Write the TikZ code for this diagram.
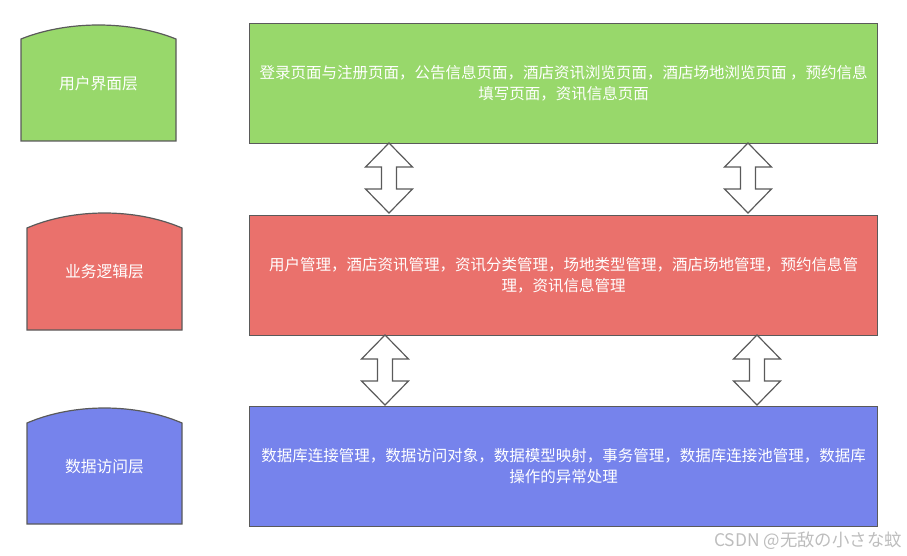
\documentclass[tikz,border=0pt]{standalone}
\usepackage{fontspec}
\setmainfont{Noto Sans CJK SC}
\definecolor{cgreen}{HTML}{98D86B}
\definecolor{cred}{HTML}{EA716C}
\definecolor{cblue}{HTML}{7683EC}
\definecolor{cline}{HTML}{5A5A5A}
\definecolor{cwm}{HTML}{BDBDBD}
\tikzset{
  box/.style={draw=cline, line width=1.2pt, rectangle, anchor=north west,
    minimum width=628pt, minimum height=120pt, inner sep=0pt, text=white,
    align=center, font=\fontsize{15.5}{21}\selectfont},
  layerlabel/.style={text=white, font=\fontsize{15.8}{18}\selectfont, inner sep=0pt},
  tapeshape/.style={draw=cline, line width=1.2pt},
  arrowst/.style={draw=cline, line width=1.2pt, fill=white, line join=miter},
  dbl/.pic={\path[arrowst] (0,0) -- (23.5,24) -- (7.5,24) -- (7.5,46) -- (23.5,46)
     -- (0,70) -- (-23.5,46) -- (-7.5,46) -- (-7.5,24) -- (-23.5,24) -- cycle;}
}
\newcommand\tapepath[5]{% x1 x2 ypeak yside ybottom
  (#1,#5) -- (#1,#4) .. controls ({#1+0.3*(#2-#1)},{#3-(#4-#3)/3}) and ({#2-0.3*(#2-#1)},{#3-(#4-#3)/3}) .. (#2,#4) -- (#2,#5) -- cycle}
\begin{document}
\begin{tikzpicture}[x=1pt,y=-1pt]
\useasboundingbox (0,0) rectangle (907,556);
% left layer shapes
\path[tapeshape, fill=cgreen] \tapepath{21}{176}{25}{39}{141};
\node[layerlabel] (l1) at (98.5,84) {用户界面层};
\path[tapeshape, fill=cred] \tapepath{27}{182}{213}{228}{330};
\node[layerlabel] (l2) at (104.5,272) {业务逻辑层};
\path[tapeshape, fill=cblue] \tapepath{27}{182}{408}{423}{524};
\node[layerlabel] (l3) at (104.5,467) {数据访问层};
% right boxes
\node[box, fill=cgreen] (ui) at (249,23) {登录页面与注册页面，公告信息页面，酒店资讯浏览页面，酒店场地浏览页面 ，预约信息\\填写页面，资讯信息页面};
\node[box, fill=cred] (bl) at (249,214.5) {用户管理，酒店资讯管理，资讯分类管理，场地类型管理，酒店场地管理，预约信息管\\理，资讯信息管理};
\node[box, fill=cblue] (da) at (249,405.5) {数据库连接管理，数据访问对象，数据模型映射，事务管理，数据库连接池管理，数据库\\操作的异常处理};
% double arrows
\pic at (389,143) {dbl};
\pic at (748,143) {dbl};
\pic at (385,335) {dbl};
\pic at (757,335) {dbl};
% watermark
\node[anchor=east, text=cwm, font=\fontsize{17.4}{19}\selectfont, inner sep=0pt] (wm) at (902,541) {CSDN @无敌の小さな蚊};
\end{tikzpicture}
\end{document}
